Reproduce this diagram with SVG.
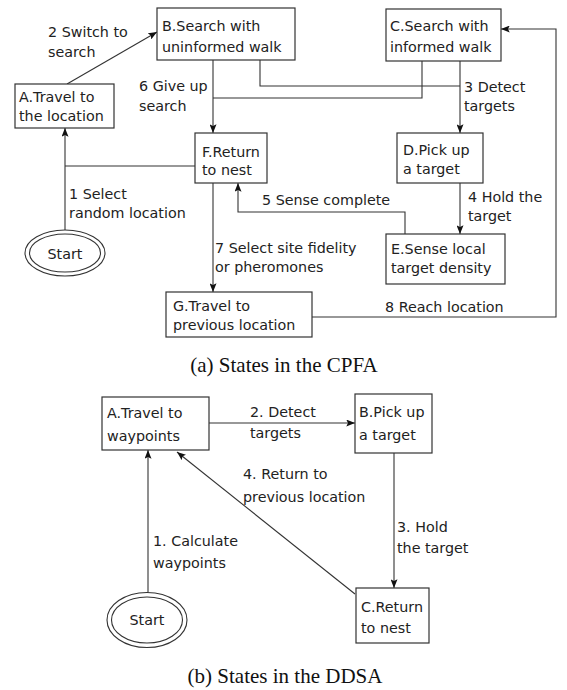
<svg xmlns="http://www.w3.org/2000/svg" width="567" height="690" viewBox="0 0 567 690">
<style>
.box{fill:#fff;stroke:#333;stroke-width:1.2}
.ell{fill:none;stroke:#333;stroke-width:1.1}
.t{font-family:"DejaVu Sans",sans-serif;font-size:14.3px;fill:#222}
.c{text-anchor:middle}
.cap{font-family:"Liberation Serif",serif;font-size:21px;fill:#111;text-anchor:middle}
.ln{fill:none;stroke:#333;stroke-width:1.1}
.ar{marker-end:url(#ah)}
</style>
<defs>
<marker id="ah" viewBox="0 0 10 8" refX="10" refY="4" markerWidth="9" markerHeight="7" markerUnits="userSpaceOnUse" orient="auto">
<path d="M0,0 L10,4 L0,8 L2,4 z" fill="#111"/>
</marker>
</defs>
<rect width="567" height="690" fill="#fff"/>

<g id="connectors">
<path class="ln ar" d="M65,230 V128"/>
<path class="ln" d="M195,166 H65"/>
<path class="ln ar" d="M67,84 L157,32"/>
<path class="ln ar" d="M213,60 V133"/>
<path class="ln" d="M422,61 V98 H213"/>
<path class="ln" d="M260,60 V86 H460"/>
<path class="ln ar" d="M460,61 V133"/>
<path class="ln ar" d="M460,183 V234"/>
<path class="ln ar" d="M405,234 V212 H238 V183"/>
<path class="ln ar" d="M213,183 V292"/>
<path class="ln ar" d="M312,317 H556 V29 H501"/>

<path class="ln ar" d="M148,592 V450"/>
<path class="ln ar" d="M209,423 H355"/>
<path class="ln ar" d="M394,453 V588"/>
<path class="ln ar" d="M355,594 L177,452"/>
</g>

<g id="labels">
<text class="t" x="48" y="37">2 Switch to</text>
<text class="t" x="48" y="57">search</text>
<text class="t" x="139" y="91">6 Give up</text>
<text class="t" x="139" y="111">search</text>
<text class="t" x="464" y="92">3 Detect</text>
<text class="t" x="464" y="111">targets</text>
<text class="t" x="468" y="202">4 Hold the</text>
<text class="t" x="468" y="221">target</text>
<text class="t" x="262" y="205">5 Sense complete</text>
<text class="t" x="69" y="199">1 Select</text>
<text class="t" x="69" y="218">random location</text>
<text class="t" x="215" y="253">7 Select site fidelity</text>
<text class="t" x="215" y="272">or pheromones</text>
<text class="t" x="385" y="312">8 Reach location</text>

<text class="t" x="250" y="417">2. Detect</text>
<text class="t" x="250" y="438">targets</text>
<text class="t" x="243" y="479">4. Return to</text>
<text class="t" x="243" y="502">previous location</text>
<text class="t" x="397" y="532">3. Hold</text>
<text class="t" x="397" y="553">the target</text>
<text class="t" x="153" y="546">1. Calculate</text>
<text class="t" x="153" y="568">waypoints</text>
</g>

<g id="cpfa-A"><rect class="box" x="15" y="84" width="99" height="44"/>
<text class="t" x="19" y="102">A.Travel to</text><text class="t" x="19" y="121">the location</text></g>
<g id="cpfa-B"><rect class="box" x="157" y="8" width="138" height="52"/>
<text class="t" x="162" y="31">B.Search with</text><text class="t" x="162" y="52">uninformed walk</text></g>
<g id="cpfa-C"><rect class="box" x="386" y="9" width="115" height="52"/>
<text class="t" x="390" y="31">C.Search with</text><text class="t" x="390" y="52">informed walk</text></g>
<g id="cpfa-D"><rect class="box" x="397" y="133" width="86" height="50"/>
<text class="t" x="403" y="155">D.Pick up</text><text class="t" x="403" y="174">a target</text></g>
<g id="cpfa-E"><rect class="box" x="386" y="234" width="119" height="50"/>
<text class="t" x="391" y="254">E.Sense local</text><text class="t" x="391" y="273">target density</text></g>
<g id="cpfa-F"><rect class="box" x="195" y="133" width="72" height="50"/>
<text class="t" x="202" y="157">F.Return</text><text class="t" x="202" y="175">to nest</text></g>
<g id="cpfa-G"><rect class="box" x="166" y="292" width="146" height="45"/>
<text class="t" x="173" y="311">G.Travel to</text><text class="t" x="173" y="330">previous location</text></g>
<g id="cpfa-start"><ellipse class="ell" cx="65" cy="253" rx="40" ry="23"/><ellipse class="ell" cx="65" cy="253" rx="35.5" ry="19"/>
<text class="t c" x="65" y="259">Start</text></g>

<g id="ddsa-A"><rect class="box" x="102" y="397" width="107" height="53"/>
<text class="t" x="107" y="418">A.Travel to</text><text class="t" x="107" y="441">waypoints</text></g>
<g id="ddsa-B"><rect class="box" x="355" y="394" width="77" height="59"/>
<text class="t" x="359" y="417">B.Pick up</text><text class="t" x="359" y="440">a target</text></g>
<g id="ddsa-C"><rect class="box" x="356" y="588" width="73" height="55"/>
<text class="t" x="361" y="612">C.Return</text><text class="t" x="361" y="633">to nest</text></g>
<g id="ddsa-start"><ellipse class="ell" cx="147" cy="620" rx="40" ry="27.5"/><ellipse class="ell" cx="147" cy="620" rx="35.5" ry="23"/>
<text class="t c" x="147" y="625">Start</text></g>

<text class="cap" x="284" y="372">(a) States in the CPFA</text>
<text class="cap" x="285" y="683">(b) States in the DDSA</text>
</svg>
